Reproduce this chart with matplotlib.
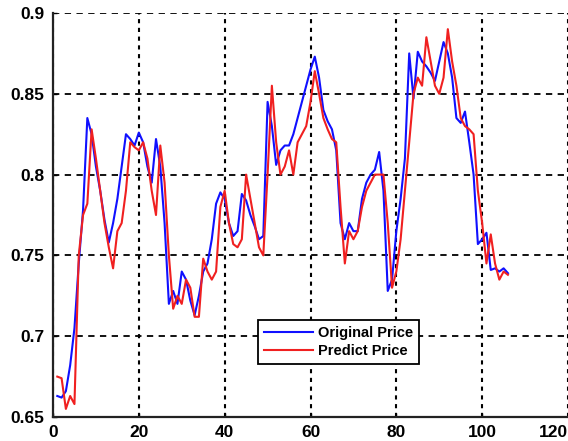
import matplotlib
matplotlib.use("Agg")
import matplotlib.pyplot as plt

x_values = list(range(1, 107))

original_price = [
    0.663, 0.662, 0.666, 0.682, 0.705, 0.745, 0.778, 0.835, 0.825, 0.805,
    0.790, 0.772, 0.758, 0.770, 0.785, 0.805, 0.825, 0.822, 0.818, 0.826,
    0.820, 0.805, 0.795, 0.822, 0.805, 0.770, 0.720, 0.728, 0.720, 0.740,
    0.735, 0.722, 0.713, 0.725, 0.740, 0.745, 0.760, 0.782, 0.789, 0.785,
    0.770, 0.762, 0.765, 0.788, 0.784, 0.775, 0.768, 0.760, 0.762, 0.845,
    0.830, 0.806, 0.815, 0.818, 0.818, 0.825, 0.835, 0.845, 0.855, 0.865,
    0.873, 0.860, 0.840, 0.833, 0.828, 0.815, 0.770, 0.760, 0.770, 0.765,
    0.765, 0.785, 0.795, 0.800, 0.803, 0.814, 0.790, 0.728, 0.735, 0.765,
    0.785, 0.810, 0.875, 0.847, 0.876, 0.870, 0.867, 0.863, 0.858, 0.870,
    0.882, 0.875, 0.860, 0.835, 0.832, 0.839, 0.820, 0.800, 0.757, 0.760,
    0.764, 0.741, 0.742, 0.740, 0.742, 0.739,
]

predict_price = [
    0.675, 0.674, 0.655, 0.663, 0.658, 0.750, 0.775, 0.782, 0.828, 0.810,
    0.790, 0.770, 0.755, 0.742, 0.765, 0.770, 0.790, 0.820, 0.817, 0.815,
    0.820, 0.810, 0.790, 0.775, 0.818, 0.795, 0.750, 0.717, 0.725, 0.720,
    0.735, 0.730, 0.712, 0.712, 0.748, 0.740, 0.735, 0.740, 0.780, 0.790,
    0.770, 0.757, 0.755, 0.760, 0.800, 0.785, 0.770, 0.755, 0.750, 0.800,
    0.855, 0.820, 0.800, 0.805, 0.815, 0.800, 0.820, 0.825, 0.830, 0.845,
    0.864, 0.850, 0.835, 0.828, 0.822, 0.820, 0.780, 0.745, 0.765, 0.760,
    0.765, 0.780, 0.790, 0.795, 0.800, 0.800, 0.800, 0.770, 0.730, 0.740,
    0.760, 0.790, 0.820, 0.850, 0.860, 0.855, 0.885, 0.870, 0.855, 0.850,
    0.860, 0.890, 0.870, 0.855, 0.835, 0.830, 0.828, 0.825, 0.790, 0.770,
    0.745, 0.763, 0.745, 0.735, 0.740, 0.738,
]

x_ticks = [0, 20, 40, 60, 80, 100, 120]
y_ticks = [0.65, 0.7, 0.75, 0.8, 0.85, 0.9]
y_tick_labels = ["0.65", "0.7", "0.75", "0.8", "0.85", "0.9"]

plt.rcParams['font.family'] = ['Liberation Sans', 'DejaVu Sans']

fig = plt.figure(figsize=(5.68, 4.41), dpi=100)
ax = fig.add_axes([53/568, 24/441, (568-53)/568, (417-13)/441])

ax.plot(x_values, original_price, color='#1010ff', lw=1.5, label='Original Price', zorder=3)
ax.plot(x_values, predict_price, color='#f02020', lw=1.5, label='Predict Price', zorder=3)

ax.set_xlim(0, 120)
ax.set_ylim(0.65, 0.9)
ax.set_xticks(x_ticks)
ax.set_yticks(y_ticks)
ax.set_yticklabels(y_tick_labels)

ax.yaxis.grid(True, color='black', linestyle=(0, (3.5, 3)), linewidth=1.3)
ax.xaxis.grid(True, color='black', linestyle=(0, (2, 2.2)), linewidth=1.5)
ax.set_axisbelow(True)

for s in ['top', 'right']:
    ax.spines[s].set_visible(False)
for s in ['left', 'bottom']:
    ax.spines[s].set_linewidth(1.6)
    ax.spines[s].set_color('#222222')
    ax.spines[s].set_zorder(4)

ax.tick_params(direction='in', length=3, width=1, labelsize=12.5, pad=6)
for lab in ax.get_xticklabels() + ax.get_yticklabels():
    lab.set_fontweight('bold')
ax.get_xticklabels()[-1].set_horizontalalignment('right')

leg = ax.legend(loc='upper left', bbox_to_anchor=(0.398, 0.240), borderaxespad=0,
                fancybox=False, framealpha=1, edgecolor='black',
                prop={'size': 10.5, 'weight': 'bold'}, handlelength=3.4,
                handletextpad=0.3, borderpad=0.4, labelspacing=0.3)
leg.get_frame().set_linewidth(1.3)
leg.set_zorder(5)

fig.savefig('out.png', dpi=100)
